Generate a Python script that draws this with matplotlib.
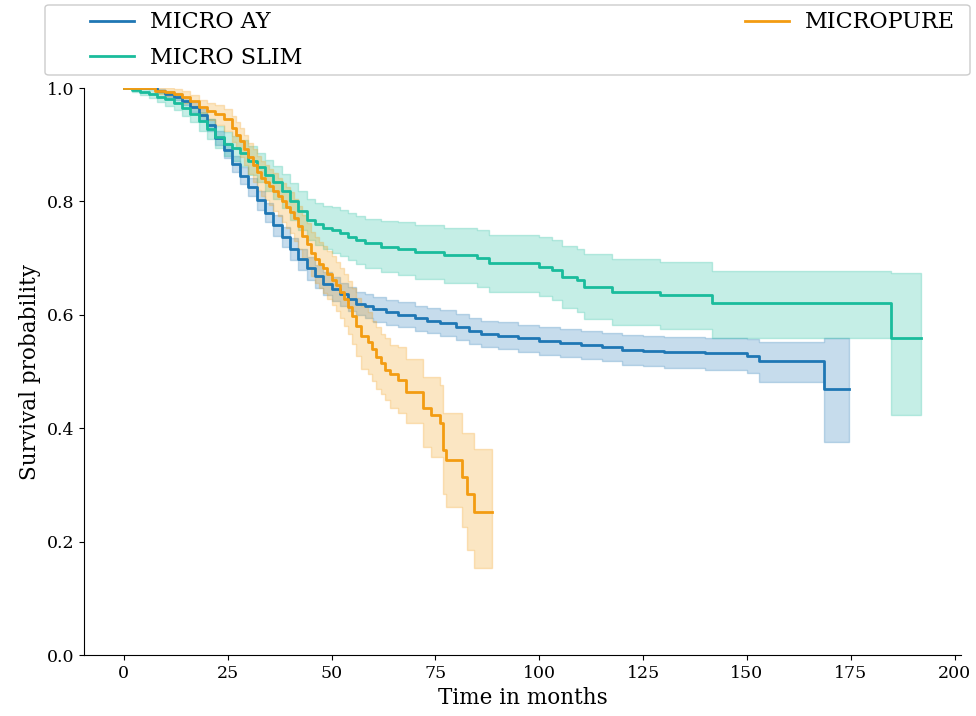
import matplotlib
matplotlib.use("Agg")
import matplotlib.pyplot as plt
from matplotlib.patches import FancyBboxPatch

plt.rcParams["font.family"] = ["DejaVu Serif"]

# Kaplan-Meier estimates (months, survival, 95% CI)
ay_t = [0, 8, 10, 12, 14, 16, 18, 20, 22, 24, 26, 28, 30, 32, 34, 36, 38, 40, 42, 44,
        46, 48, 50, 52, 54, 56, 58, 60, 63, 66, 70, 73, 76, 80, 83, 86, 90, 95, 100, 105,
        110, 115, 120, 125, 130, 140, 150, 153, 168.5, 174.5]
ay_s = [1.0, .995, .99, .985, .977, .966, .953, .935, .912, .89, .866, .845, .825, .802,
        .78, .758, .737, .716, .698, .682, .668, .655, .645, .636, .628, .62, .615, .61,
        .605, .6, .594, .59, .586, .578, .572, .567, .563, .559, .554, .55, .547, .543,
        .538, .536, .534, .532, .527, .518, .47, .47]
ay_hi = [1.0, .999, .995, .991, .984, .975, .963, .946, .924, .903, .88, .86, .841, .819,
         .797, .776, .755, .735, .717, .702, .688, .675, .666, .657, .649, .641, .636, .632,
         .627, .622, .616, .612, .609, .601, .595, .59, .587, .583, .578, .575, .572, .568,
         .564, .562, .561, .56, .558, .553, .559, .559]
ay_lo = [1.0, .991, .985, .979, .97, .957, .943, .924, .9, .877, .852, .83, .809, .785,
         .763, .74, .719, .697, .679, .662, .648, .635, .624, .615, .607, .599, .594, .588,
         .583, .578, .572, .568, .563, .555, .549, .544, .539, .535, .53, .525, .522, .518,
         .512, .51, .507, .503, .497, .482, .376, .376]

slim_t = [0, 2, 4, 6, 8, 10, 12, 14, 16, 18, 20, 22, 24, 26, 28, 30, 32, 34, 36, 38,
          40, 42, 44, 46, 48, 50, 52, 54, 56, 58, 62, 66, 70, 77, 85, 88, 100, 103, 105.5,
          109, 110.7, 117.5, 129, 141.5, 184.7, 192]
slim_s = [1.0, .997, .993, .989, .985, .98, .974, .965, .955, .942, .928, .914, .902, .894,
          .885, .872, .86, .846, .834, .818, .8, .784, .768, .76, .754, .75, .744, .738,
          .732, .726, .72, .717, .711, .705, .70, .691, .685, .679, .667, .661, .65, .641,
          .635, .621, .5585, .5585]
slim_hi = [1.0, 1.0, .998, .996, .993, .99, .986, .978, .969, .958, .946, .933, .923, .916,
           .908, .897, .886, .873, .863, .848, .832, .818, .804, .797, .792, .79, .785, .78,
           .774, .769, .765, .764, .759, .754, .75, .741, .737, .732, .722, .717, .707, .699,
           .694, .678, .674, .674]
slim_lo = [1.0, .993, .988, .982, .976, .969, .961, .951, .94, .925, .91, .894, .881, .872,
           .862, .847, .834, .819, .805, .788, .768, .75, .732, .723, .716, .71, .703, .696,
           .689, .683, .675, .67, .663, .656, .65, .641, .633, .626, .612, .605, .593, .583,
           .576, .56, .423, .423]

pure_t = [0, 7.6, 10, 12, 14, 16, 18, 20, 22, 24, 26, 27, 28, 29, 30, 31, 32, 33, 34, 35,
          36, 37, 38, 39, 40, 41, 42, 43, 44, 45, 46, 47, 48, 49, 50, 51, 52, 53, 54, 55,
          56, 57, 58.8, 59.8, 60.8, 61.8, 62.8, 64, 66, 68, 72, 74, 76, 76.8, 77.5, 81.5,
          82.7, 84.3, 88.7]
pure_s = [1.0, .995, .993, .99, .985, .977, .966, .96, .954, .945, .929, .918, .906, .892,
          .878, .865, .852, .842, .835, .828, .819, .81, .8, .791, .782, .77, .756, .74,
          .725, .709, .699, .69, .682, .672, .662, .652, .64, .628, .614, .598, .58, .562,
          .553, .54, .526, .515, .503, .495, .485, .464, .436, .423, .409, .362, .344, .315,
          .285, .253, .253]
pure_hi = [1.0, 1.0, 1.0, .998, .995, .988, .979, .974, .97, .963, .95, .94, .93, .917,
           .904, .892, .88, .871, .865, .858, .85, .842, .833, .825, .816, .805, .792, .776,
           .762, .747, .737, .729, .722, .712, .703, .694, .683, .672, .659, .648, .63, .615,
           .605, .59, .579, .567, .56, .547, .544, .523, .491, .491, .476, .427, .427, .391,
           .391, .364, .364]
pure_lo = [1.0, .99, .986, .982, .974, .965, .951, .943, .935, .924, .905, .893, .879, .864,
           .849, .835, .821, .81, .802, .794, .784, .774, .763, .753, .744, .731, .716, .7,
           .684, .668, .657, .648, .639, .628, .618, .607, .594, .581, .566, .548, .527, .504,
           .495, .484, .47, .46, .45, .435, .427, .409, .367, .35, .35, .285, .262, .226,
           .185, .153, .153]

groups = [
    ("MICRO AY", ay_t, ay_s, ay_lo, ay_hi, "#1f77b4"),
    ("MICRO SLIM", slim_t, slim_s, slim_lo, slim_hi, "#1abc9c"),
    ("MICROPURE", pure_t, pure_s, pure_lo, pure_hi, "#f39c12"),
]

W, H = 976, 716
fig = plt.figure(figsize=(W / 100, H / 100), dpi=100)
ax = fig.add_axes([0.086, 0.085, 0.899, 0.792])

for name, t, s, lo, hi, col in groups:
    ax.plot(t, s, drawstyle="steps-post", color=col, lw=2, label=name)
    ax.fill_between(t, lo, hi, step="post", color=col, alpha=0.25, linewidth=1.0)

ax.set_ylim(0, 1.0)
ax.set_xticks(range(0, 201, 25))
ax.set_yticks([0.0, 0.2, 0.4, 0.6, 0.8, 1.0])
ax.tick_params(labelsize=12.5)
ax.set_xlabel("Time in months", fontsize=15.5)
ax.set_ylabel("Survival probability", fontsize=15.5)
ax.spines["top"].set_visible(False)
ax.spines["right"].set_visible(False)

# legend box above the axes, entries spread over two columns
frame = FancyBboxPatch((45 / W, 1 - 75 / H), 925 / W, 70 / H,
                       boxstyle="round,pad=0,rounding_size=0.004",
                       transform=fig.transFigure, facecolor="white",
                       edgecolor="#cccccc", lw=1)
fig.patches.append(frame)
handles, labels = ax.get_legend_handles_labels()
fig.legend(handles, labels, loc="center left",
           bbox_to_anchor=(90 / W, 1 - 75 / H, 865 / W, 70 / H),
           mode="expand", ncol=2, frameon=False, borderpad=0, borderaxespad=0,
           fontsize=16, labelspacing=0.6, handletextpad=0.7)

fig.savefig("out.png", dpi=100)
